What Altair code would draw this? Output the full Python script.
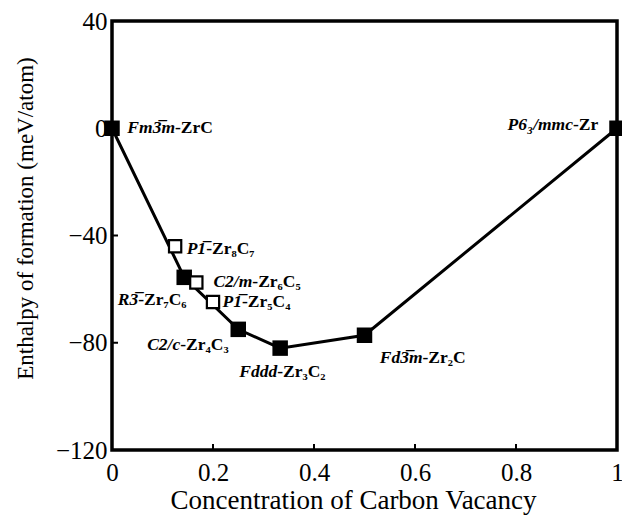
import altair as alt
import pandas as pd

# --- data ---
conc = [0.0, 0.125, 0.143, 0.167, 0.2, 0.25, 0.333, 0.5, 1.0]
enthalpy = [0.0, -44.0, -55.6, -57.5, -64.8, -75.0, -82.0, -77.2, 0.0]
stable = [True, False, True, False, False, True, True, True, True]
spacegroup = ["Fm3\u0305m", "P1\u0305", "R3\u0305", "C2/m", "P1\u0305", "C2/c", "Fddd", "Fd3\u0305m", "P6\u2083/mmc"]
formula = ["-ZrC", "-Zr\u2088C\u2087", "-Zr\u2087C\u2086", "-Zr\u2086C\u2085", "-Zr\u2085C\u2084",
           "-Zr\u2084C\u2083", "-Zr\u2083C\u2082", "-Zr\u2082C", "-Zr"]
# pixel offsets of each label's junction (space group | formula) from its point
label_dx = [63, 31, -46, 56, 29, -58, -3, 58, -44]
label_dy = [0, 3, 23, 0, 0, 16, 24, 23, -3]

x_ticks = [0, 0.2, 0.4, 0.6, 0.8, 1]
y_ticks = [-120, -80, -40, 0, 40]
x_inner_ticks = [0.2, 0.4, 0.6, 0.8]
y_inner_ticks = [-80, -40, 0]

W, H = 505, 429
XMIN, XMAX, YMIN, YMAX = 0, 1, -120, 40
FONT = "Liberation Serif"
TICK_FS = 25

df = pd.DataFrame({
    "conc": conc, "enthalpy": enthalpy, "stable": stable,
    "sg": spacegroup, "formula": formula, "dx": label_dx, "dy": label_dy,
})

xscale = alt.Scale(domain=[XMIN, XMAX], nice=False, zero=False)
yscale = alt.Scale(domain=[YMIN, YMAX], nice=False, zero=False)

xaxis = alt.Axis(values=x_ticks, format="~g", ticks=False, domain=False, grid=False,
                 labelFont=FONT, labelFontSize=TICK_FS, labelColor="black", labelPadding=10,
                 title="Concentration of Carbon Vacancy", titleFont=FONT,
                 titleFontSize=27, titleFontWeight="normal", titleColor="black",
                 titlePadding=2, titleX=241, labelFlush=False)
yaxis = alt.Axis(values=y_ticks, ticks=False, domain=False, grid=False,
                 labelFont=FONT, labelFontSize=TICK_FS, labelColor="black", labelPadding=5,
                 title="Enthalpy of formation (meV/atom)", titleFont=FONT,
                 titleFontSize=23, titleFontWeight="normal", titleColor="black",
                 titleX=-75, titleY=197, labelFlush=False)

base = alt.Chart(df)

XP = alt.X("conc:Q", scale=xscale, axis=xaxis)
YP = alt.Y("enthalpy:Q", scale=yscale, axis=yaxis)

line = base.transform_filter("datum.stable").mark_line(color="black", strokeWidth=3).encode(
    x=XP, y=YP, order="conc:Q")

filled = base.transform_filter("datum.stable").mark_square(
    size=240, color="black", opacity=1, filled=True).encode(x=XP, y=YP)

opened = base.transform_filter("!datum.stable").mark_square(
    size=150, fill="white", stroke="black", strokeWidth=2.2, opacity=1, filled=False,
    fillOpacity=1).encode(x=XP, y=YP)

labels = base.transform_calculate(
    lx=f"datum.conc + datum.dx * {(XMAX - XMIN) / W}",
    ly=f"datum.enthalpy - datum.dy * {(YMAX - YMIN) / H}",
)
XL = alt.X("lx:Q", scale=xscale, axis=xaxis)
YL = alt.Y("ly:Q", scale=yscale, axis=yaxis)

sg_text = labels.mark_text(font=FONT, fontSize=17.5, fontStyle="italic", fontWeight="bold",
                           align="right", baseline="middle", color="black").encode(
    x=XL, y=YL, text="sg:N")

f_text = labels.mark_text(font=FONT, fontSize=17.5, fontWeight="bold",
                          align="left", baseline="middle", color="black").encode(
    x=XL, y=YL, text="formula:N")

yt = alt.Chart(pd.DataFrame({"v": y_inner_ticks})).mark_rule(color="black", strokeWidth=2).encode(
    y=alt.Y("v:Q", scale=yscale, axis=yaxis), x=alt.value(0), x2=alt.value(6))
xt = alt.Chart(pd.DataFrame({"v": x_inner_ticks})).mark_rule(color="black", strokeWidth=2).encode(
    x=alt.X("v:Q", scale=xscale, axis=xaxis), y=alt.value(H), y2=alt.value(H - 6))

chart = alt.layer(line, yt, xt, filled, opened, sg_text, f_text).properties(
    width=W, height=H,
    autosize=alt.AutoSizeParams(type="none"),
    padding={"left": 112, "top": 21, "right": 5, "bottom": 67},
    background="white",
).configure_view(stroke="black", strokeWidth=3.5).configure_axis(
    labelFont=FONT, labelFontSize=TICK_FS, labelColor="black")

chart.save("out.html", embed_options={"renderer": "svg", "actions": False})
